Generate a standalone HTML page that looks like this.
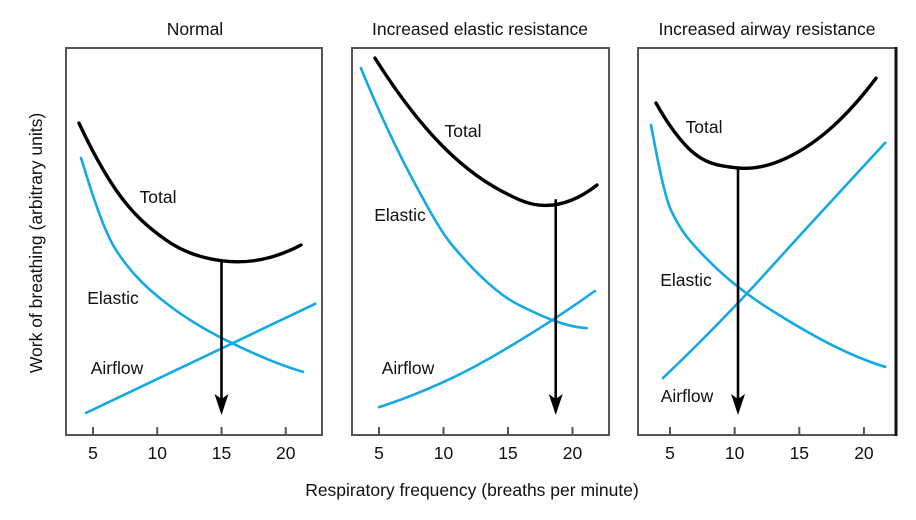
<!DOCTYPE html>
<html><head><meta charset="utf-8"><style>
body{margin:0;background:#fff;}
svg{display:block;font-family:"Liberation Sans",Arial,sans-serif;}
</style></head><body>
<svg id="chart" width="916" height="520" viewBox="0 0 916 520"></svg>
<script>
// Panel data (frequency in breaths/min, work in arbitrary units 0-100)
const tickLabels = [5, 10, 15, 20];
const panelTitles = ["Normal", "Increased elastic resistance", "Increased airway resistance"];
const p1TotalF = [3.91, 6.79, 10.68, 15.12, 21.19];
const p1TotalV = [80.6, 63.3, 50.4, 45.0, 49.1];
const p1ElasticF = [4.07, 6.79, 10.68, 15.35, 21.34];
const p1ElasticV = [71.6, 47.8, 34.1, 24.5, 16.3];
const p1AirflowF = [4.46, 22.3];
const p1AirflowV = [5.7, 33.9];
const p1Optimum = 15;
const p2TotalF = [4.69, 9.34, 14.53, 17.4, 21.9];
const p2TotalV = [97.4, 76.7, 63.0, 59.4, 64.6];
const p2ElasticF = [3.6, 8.1, 10.66, 15.85, 21.1];
const p2ElasticV = [94.8, 63.0, 49.1, 33.6, 27.6];
const p2AirflowF = [5, 10.66, 15.85, 21.74];
const p2AirflowV = [7.2, 14.7, 24.3, 37.2];
const p2Optimum = 18.7;
const p3TotalF = [3.92, 6.39, 10.26, 15.44, 20.93];
const p3TotalV = [85.8, 74.2, 69.0, 74.2, 92.2];
const p3ElasticF = [3.53, 5.08, 7.71, 12.81, 21.64];
const p3ElasticV = [80.1, 58.1, 46.0, 32.3, 17.6];
const p3AirflowF = [4.46, 10.26, 15.44, 21.64];
const p3AirflowV = [14.7, 34.1, 53.0, 75.5];
const p3Optimum = 10.26;

const NS = "http://www.w3.org/2000/svg";
const svg = document.getElementById("chart");
function mk(tag, attrs, parent){const e=document.createElementNS(NS,tag);for(const k in attrs)e.setAttribute(k,attrs[k]);(parent||svg).appendChild(e);return e;}
const yTop=48, yBot=435;
function yScale(v){return yBot-(v/100)*(yBot-yTop);}
function endSlope(h0,h1,d0,d1){
  let m=((2*h0+h1)*d0-h0*d1)/(h0+h1);
  if(Math.sign(m)!==Math.sign(d0)) m=0;
  else if(Math.sign(d0)!==Math.sign(d1)&&Math.abs(m)>Math.abs(3*d0)) m=3*d0;
  return m;
}
function smooth(pts){
  const n=pts.length;
  if(n<3){return "M"+pts.map(p=>p[0].toFixed(1)+","+p[1].toFixed(1)).join(" L");}
  const h=[],d=[];
  for(let i=0;i<n-1;i++){h.push(pts[i+1][0]-pts[i][0]);d.push((pts[i+1][1]-pts[i][1])/h[i]);}
  const mono=d.every(x=>x*d[0]>0);
  const m=new Array(n).fill(0);
  for(let i=1;i<n-1;i++){
    if(mono){
      const w1=2*h[i]+h[i-1],w2=h[i]+2*h[i-1];
      m[i]=(w1+w2)/(w1/d[i-1]+w2/d[i]);
    } else {
      m[i]=(d[i-1]*h[i]+d[i]*h[i-1])/(h[i-1]+h[i]);
    }
  }
  if(mono){
    m[0]=endSlope(h[0],h[1],d[0],d[1]);
    m[n-1]=endSlope(h[n-2],h[n-3],d[n-2],d[n-3]);
  } else {
    m[0]=2*d[0]-m[1];
    m[n-1]=2*d[n-2]-m[n-2];
  }
  let s="M"+pts[0][0].toFixed(1)+","+pts[0][1].toFixed(1);
  for(let i=0;i<n-1;i++){
    const t=h[i]/3;
    s+=" C"+(pts[i][0]+t).toFixed(1)+","+(pts[i][1]+m[i]*t).toFixed(1)+" "+(pts[i+1][0]-t).toFixed(1)+","+(pts[i+1][1]-m[i+1]*t).toFixed(1)+" "+pts[i+1][0].toFixed(1)+","+pts[i+1][1].toFixed(1);
  }
  return s;
}
const panels=[
 {x0:66,x1:322,f5:93,u:12.85,title:195,T:[p1TotalF,p1TotalV],E:[p1ElasticF,p1ElasticV],A:[p1AirflowF,p1AirflowV],opt:p1Optimum,lab:{Total:[158,197],Elastic:[113,298],Airflow:[117,368]}},
 {x0:352,x1:609,f5:379,u:12.9,title:480,T:[p2TotalF,p2TotalV],E:[p2ElasticF,p2ElasticV],A:[p2AirflowF,p2AirflowV],opt:p2Optimum,lab:{Total:[463,131],Elastic:[400,215],Airflow:[408,368]}},
 {x0:638,x1:896,f5:670,u:12.93,title:767,T:[p3TotalF,p3TotalV],E:[p3ElasticF,p3ElasticV],A:[p3AirflowF,p3AirflowV],opt:p3Optimum,lab:{Total:[704,127],Elastic:[686,280],Airflow:[687,396]}}
];
const blue="#12a9e4";
panels.forEach((p,i)=>{
  const xs=f=>p.f5+(f-5)*p.u;
  const g=mk("g",{});
  
  
  const box=mk("rect",{x:p.x0,y:yTop,width:p.x1-p.x0,height:yBot-yTop,fill:"none",stroke:"#555","stroke-width":2},g);
  
  
  const t=mk("text",{x:p.title,y:35,"text-anchor":"middle","font-size":17.5,fill:"#111"},g);
  t.textContent=panelTitles[i];
  
  
  tickLabels.forEach(tv=>{
    const x=xs(tv);
    const tk=mk("line",{x1:x,x2:x,y1:yBot,y2:yBot-8,stroke:"#555","stroke-width":2},g);
    
    
    const tl=mk("text",{x:x,y:459,"text-anchor":"middle","font-size":17.5,fill:"#111"},g);
    tl.textContent=tv;
    
    
  });
  const series=[["elastic",p.E,blue,2.6],["airflow",p.A,blue,2.6],["total",p.T,"#000",3.4]];
  series.forEach(s=>{
    const pts=s[1][0].map((f,k)=>[xs(f),yScale(s[1][1][k])]);
    const path=mk("path",{d:smooth(pts),fill:"none",stroke:s[2],"stroke-width":s[3],"stroke-linecap":"round"},g);
    
    
  });
  const ax=xs(p.opt);
  const tf=p.T[0],tv=p.T[1];
  let yv=tv[0];
  for(let k=0;k<tf.length-1;k++){if(p.opt>=tf[k]&&p.opt<=tf[k+1]){const r=(p.opt-tf[k])/(tf[k+1]-tf[k]);yv=tv[k]+r*(tv[k+1]-tv[k]);}}
  const ay=yScale(yv);
  const al=mk("line",{x1:ax,x2:ax,y1:ay,y2:404,stroke:"#000","stroke-width":2.6},g);
  
  
  const ah=mk("path",{d:`M${ax-7},394 L${ax},415 L${ax+7},394 L${ax},399 Z`,fill:"#000"},g);
  
  
  for(const k in p.lab){
    const lt=mk("text",{x:p.lab[k][0],y:p.lab[k][1]+6,"text-anchor":"middle","font-size":17.5,fill:"#111"},g);
    lt.textContent=k;
    
    
  }
});
const pr=mk("line",{x1:896,x2:896,y1:47,y2:436,stroke:"#111","stroke-width":3});


const yt=mk("text",{x:0,y:0,"text-anchor":"middle","font-size":17.5,fill:"#111",transform:"translate(42,243) rotate(-90)"});
yt.textContent="Work of breathing (arbitrary units)";


const xt=mk("text",{x:472,y:496,"text-anchor":"middle","font-size":17.5,fill:"#111"});
xt.textContent="Respiratory frequency (breaths per minute)";


</script>
</body></html>
